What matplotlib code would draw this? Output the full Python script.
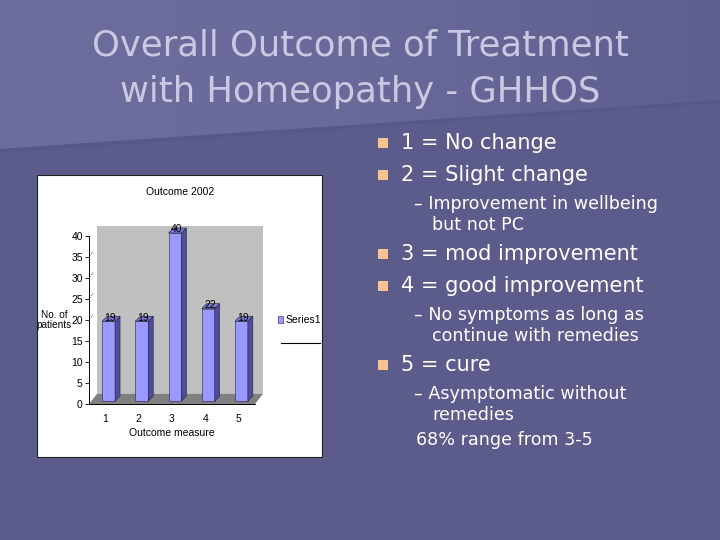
import numpy as np
import matplotlib
matplotlib.use('Agg')
import matplotlib.pyplot as plt
from matplotlib.patches import Rectangle, Polygon
from matplotlib.colors import LinearSegmentedColormap

# chart data
categories = [1, 2, 3, 4, 5]
patients = [19, 19, 40, 22, 19]
yticks = [0, 5, 10, 15, 20, 25, 30, 35, 40]

title_lines = ['Overall Outcome of Treatment', 'with Homeopathy - GHHOS']
bullets = [('main', '1 = No change'),
           ('main', '2 = Slight change'),
           ('sub', 'Improvement in wellbeing\nbut not PC'),
           ('main', '3 = mod improvement'),
           ('main', '4 = good improvement'),
           ('sub', 'No symptoms as long as\ncontinue with remedies'),
           ('main', '5 = cure'),
           ('sub', 'Asymptomatic without\nremedies'),
           ('note', '68% range from 3-5')]

plt.rcParams['font.family'] = ['DejaVu Sans']
small = 7.5

fig = plt.figure(figsize=(7.2, 5.4), dpi=100)
fig.patch.set_facecolor('#5c5c8c')

# slide background, pixel coords
bg = fig.add_axes([0, 0, 1, 1])
bg.set_xlim(0, 720)
bg.set_ylim(540, 0)
bg.axis('off')
band = Polygon([(0, 0), (720, 0), (720, 100), (0, 149)], closed=True,
               facecolor='none', edgecolor='none')
bg.add_patch(band)
grad = LinearSegmentedColormap.from_list('band', ['#6e6e9e', '#6a6a9a', '#5f5f8f'])
img = bg.imshow(np.linspace(0, 1, 720).reshape(1, -1), cmap=grad, aspect='auto',
                extent=(0, 720, 150, 0), interpolation='bilinear', zorder=0)
img.set_clip_path(band)
bg.add_patch(Polygon([(0, 149), (720, 100), (720, 103), (0, 153)], closed=True,
                     facecolor='#57578a', edgecolor='none', zorder=0.1))
bg.set_xlim(0, 720)
bg.set_ylim(540, 0)

for i, line in enumerate(title_lines):
    bg.text(360, 45 + i * 47, line, fontsize=25.5, color='#c9c9e3',
            ha='center', va='center')

# bullets
y = 143
for kind, txt in bullets:
    if kind == 'main':
        bg.add_patch(Rectangle((378, y - 5), 10, 10, facecolor='#f8c391',
                               edgecolor='none'))
        bg.text(401, y, txt, fontsize=15, color='white', va='center')
        y += 32
    elif kind == 'sub':
        l1, l2 = txt.split('\n')
        y -= 3
        bg.text(414, y, '\u2013 ' + l1, fontsize=12.6, color='white', va='center')
        bg.text(432, y + 21, l2, fontsize=12.6, color='white', va='center')
        y += 50
    else:
        bg.text(416, y - 4, txt, fontsize=12.6, color='white', va='center')

# white chart box
bg.add_patch(Rectangle((37, 175), 285, 282, facecolor='white',
                       edgecolor='#202020', linewidth=0.8, zorder=1))
bg.text(180, 192, 'Outcome 2002', fontsize=small, ha='center', va='center',
        family='Liberation Sans', zorder=2)
bg.text(54, 320, 'No. of\npatients', fontsize=small - 0.3, ha='center', va='center',
        family='Liberation Sans', linespacing=1.1, zorder=2)
bg.text(172, 433, 'Outcome measure', fontsize=small, ha='center', va='center',
        family='Liberation Sans', zorder=2)
bg.plot([281, 320], [343, 343], color='black', linewidth=0.8, zorder=2)

# bar chart with fake 3D
ax = fig.add_axes([89 / 720, (540 - 404) / 540, 166 / 720, 168 / 540])
ax.set_facecolor('none')
ax.set_xlim(0.5, 5.5)
ax.set_ylim(0, 40)

wdx, wdy = 0.24, 2.4     # back wall offset
bdx, bdy = 0.15, 1.2     # bar depth
bx0, by0 = 0.09, 0.7     # bar shift
bw = 0.39
x = np.array(categories, dtype=float)
v = np.array(patients, dtype=float)
x0, x1 = ax.get_xlim()
ytop = yticks[-1]

ax.add_patch(Polygon([(x0 + wdx, wdy), (x1 + wdx, wdy), (x1 + wdx, ytop + wdy),
                      (x0 + wdx, ytop + wdy)], closed=True, facecolor='#c0c0c0',
                     edgecolor='none', clip_on=False, zorder=0.5))
ax.add_patch(Polygon([(x0, 0), (x1, 0), (x1 + wdx, wdy), (x0 + wdx, wdy)],
                     closed=True, facecolor='#808080', edgecolor='none',
                     clip_on=False, zorder=0.6))
for t in yticks:
    if t >= 20 and t < ytop:
        ax.plot([x0 + 0.02, x0 + wdx * 0.6], [t + 0.3, t + wdy * 0.6], color='black',
                linewidth=0.6, linestyle=':', clip_on=False, zorder=0.7)

bars = ax.bar(x + bx0, v, width=bw, bottom=by0, color='#9999ff', edgecolor='#202040',
              linewidth=0.4, zorder=2, clip_on=False)
for xi, vi in zip(x + bx0, v):
    r = xi + bw / 2
    l = xi - bw / 2
    ax.add_patch(Polygon([(r, by0), (r + bdx, by0 + bdy), (r + bdx, vi + by0 + bdy),
                          (r, vi + by0)], closed=True, facecolor='#4d4d99',
                         edgecolor='#202040', linewidth=0.4, clip_on=False, zorder=2))
    ax.add_patch(Polygon([(l, vi + by0), (l + bdx, vi + by0 + bdy),
                          (r + bdx, vi + by0 + bdy), (r, vi + by0)], closed=True,
                         facecolor='#7777cc', edgecolor='#202040', linewidth=0.4,
                         clip_on=False, zorder=2))
    ax.text(xi + 0.05, vi + by0 - 0.3, '%d' % vi, fontsize=small, ha='center',
            va='bottom', family='Liberation Sans', zorder=3)

ax.set_yticks(yticks)
ax.set_xticks(categories)
ax.tick_params(axis='y', labelsize=small, length=3, width=0.6, pad=1.5)
ax.tick_params(axis='x', labelsize=small, length=0, pad=7)
for lab in ax.get_xticklabels() + ax.get_yticklabels():
    lab.set_family('Liberation Sans')
for s in ['top', 'right']:
    ax.spines[s].set_visible(False)
ax.spines['left'].set_linewidth(0.7)
ax.spines['bottom'].set_linewidth(0.7)

ax.legend([bars], ['Series1'], loc='center left', bbox_to_anchor=(1.08, 0.5),
          frameon=False, handlelength=0.5, handleheight=0.6,
          handletextpad=0.3, prop={'family': 'Liberation Sans', 'size': small})

fig.savefig('out.png', dpi=100, facecolor=fig.get_facecolor())
